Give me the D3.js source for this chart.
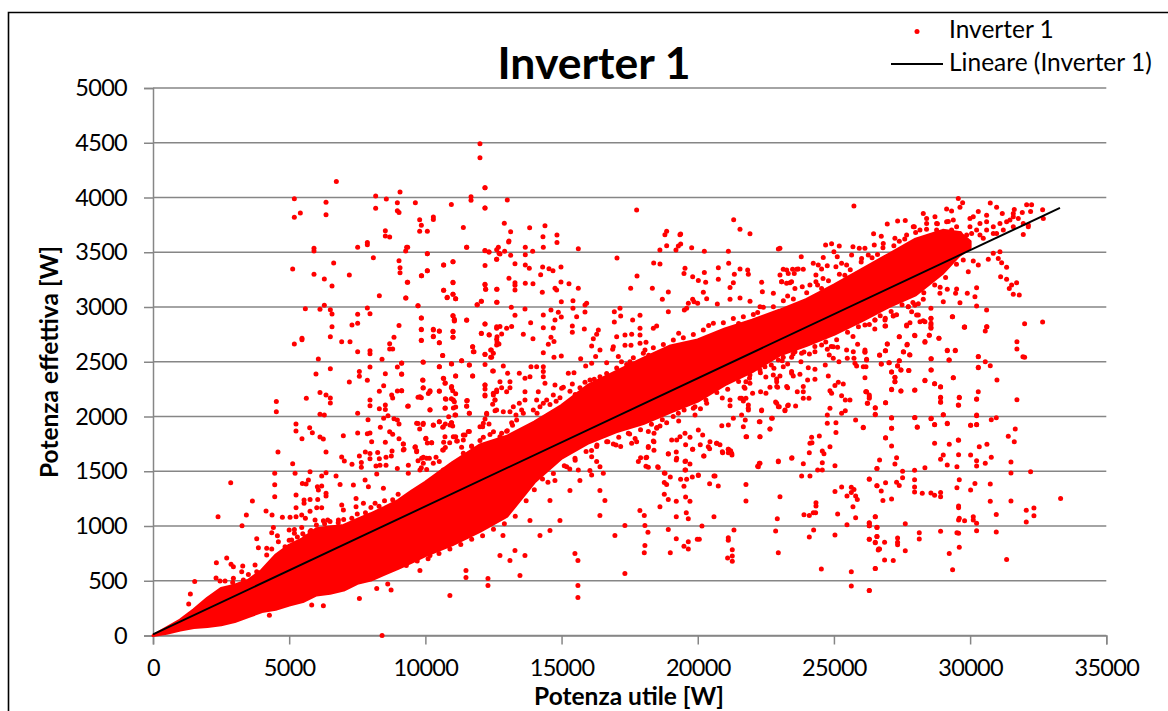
<!DOCTYPE html>
<html><head><meta charset="utf-8">
<script src="https://cdn.jsdelivr.net/npm/d3@7"></script>
<style>html,body{margin:0;padding:0;background:#fff}svg{display:block}</style>
</head><body><svg id="c" width="1168" height="711"></svg>
<script>
const chartTitle="Inverter 1", xTitle="Potenza utile [W]", yTitle="Potenza effettiva [W]";
const seriesName="Inverter 1", trendName="Lineare (Inverter 1)";
const xTicks=[0,5000,10000,15000,20000,25000,30000,35000];
const yTicks=[0,500,1000,1500,2000,2500,3000,3500,4000,4500,5000];
const trendLine=[[0,10],[33300,3905]];
// dense cloud envelope: x, lower, upper
const cloudX=[0,500,1000,1500,2000,2500,3000,3500,4000,4500,5000,5500,6000,6500,7000,7500,8000,8500,9000,9500,10000,11000,12000,13000,14000,15000,16000,17000,18000,19000,20000,21000,22000,23000,24000,25000,26000,27000,28000,29000,29600,30000];
const cloudLow=[0,20,50,73,82,97,127,173,218,240,279,309,370,385,415,476,506,560,612,670,730,830,950,1090,1400,1620,1760,1860,1935,2040,2140,2290,2410,2560,2650,2750,2870,3000,3110,3310,3470,3540];
const cloudHigh=[0,70,142,235,340,430,460,505,597,733,824,885,975,990,1005,1060,1112,1170,1233,1320,1400,1580,1740,1820,1950,2100,2290,2410,2530,2645,2700,2800,2880,2970,3070,3200,3340,3480,3620,3700,3680,3600];
// points fringing the cloud's upper and lower edges
const fringeUpper=[[5000,870],[5300,900],[5500,930],[5800,960],[6000,1010],[6300,1020],[6500,1040],[6800,1030],[7000,1060],[7300,1070],[7500,1110],[7800,1120],[8000,1170],[8300,1180],[8500,1230],[8800,1240],[9000,1290],[9373,1481],[9801,1512],[9924,1573],[10291,1573],[10658,1512],[11025,1542],[11393,1664],[11699,1725],[12005,1780],[12127,1810],[12372,1836],[12739,1816],[12984,1866],[13351,1968],[13596,2029],[13963,2060],[14330,2120],[14575,2110],[14942,2171],[15309,2231],[15676,2262],[16044,2333],[16411,2363],[16656,2393],[17023,2444],[17390,2475],[17635,2536],[18002,2577],[18369,2627],[18737,2658],[19104,2698],[19471,2719],[19838,2749],[20205,2790],[20573,2851],[20940,2856],[21307,2896],[21674,2911],[22041,2932],[22408,2997],[22776,3003],[23143,3058],[23510,3074],[24000,3130],[24400,3200],[24800,3240],[25200,3300],[25600,3340],[26000,3410],[26400,3450],[26800,3540],[27200,3560],[27600,3620],[28000,3680],[28400,3710],[28800,3760],[29200,3780],[12500,1860],[13200,1920],[14100,2030],[14800,2140],[15500,2200],[16200,2340],[17200,2500],[18200,2560],[19300,2760],[20400,2830],[21500,2850],[22200,2950],[23300,3100],[24600,3260],[25400,3290],[26600,3480],[27400,3600]];
const fringeLower=[[9300,640],[9700,680],[10100,700],[10500,750],[10900,790],[11300,830],[11700,880],[12100,910],[12500,970],[12900,1020],[13300,1090],[13700,1230],[14300,1430],[14700,1480],[15100,1550],[15500,1600],[15900,1680],[16300,1740],[16700,1770],[17100,1810],[17500,1840],[17900,1880],[18300,1930],[18700,1970],[19100,2000],[19500,2060],[19900,2090],[20300,2150],[20700,2220],[21100,2250],[21500,2320],[21900,2350],[22300,2400],[22700,2470],[23100,2510],[23500,2570],[23900,2590],[24300,2640],[24700,2680],[25100,2700],[25500,2770],[25900,2820],[26300,2840],[26700,2920],[27100,2960],[27500,3020],[27900,3040],[28300,3130],[28700,3200],[29100,3270],[29500,3390],[14000,1330],[14500,1400],[15300,1520],[16100,1690],[16900,1750],[17700,1800],[18500,1900],[19300,1960],[20100,2070],[20900,2170],[21700,2270],[22500,2360],[23300,2480],[24100,2570],[24900,2640],[25700,2730],[26500,2800],[27300,2930],[28100,3030],[28900,3180]];
const pointsTopLeft=[[6731,4147],[5189,3989],[6352,3956],[5409,3858],[5189,3819],[6352,3843],[8175,4014],[8567,3986],[9069,4050],[8971,3953],[8175,3901],[8971,3880],[9032,3864],[9632,3953],[10954,3937],[11676,4007],[11676,3974],[12190,4090],[12190,3904],[9791,3797],[9852,3746],[10293,3822],[10293,3800],[11394,3727],[9791,3691],[10072,3691],[8530,3697],[8530,3648],[8689,3639],[5911,3536],[5911,3511],[7514,3545],[7869,3590],[7869,3569],[9350,3545],[9277,3511],[10072,3487],[11517,3545],[12190,3514],[12337,3502],[12680,3545],[12618,3523],[12704,3490],[8090,3450],[9032,3423],[11015,3414],[10672,3383],[12618,3435],[12190,3380],[6633,3402],[5128,3347],[5911,3298],[6290,3256],[7208,3292],[6572,3192],[9069,3359],[9069,3313],[10072,3332],[9852,3286],[9350,3225],[11015,3222],[12190,3204],[12214,3161],[12631,3161],[10672,3152],[8310,3103],[9277,3082],[10795,3085],[11015,3116],[11113,3076],[12055,3052],[11896,3021],[12631,3043],[9730,3012],[5593,2985],[6131,2979],[6290,3015],[6511,2975],[6572,2936],[7514,2933],[7869,2991],[7967,2939],[9852,2900],[11015,2921],[11064,2887],[11517,2881]];
const pointsMidLeft=[[6572,2820],[7306,2835],[7514,2851],[9032,2832],[9852,2793],[10293,2790],[10513,2778],[11015,2774],[11064,2872],[12190,2844],[12618,2820],[12055,2759],[12337,2747],[12631,2729],[12631,2680],[5470,2714],[5470,2701],[5189,2662],[6511,2729],[6927,2683],[7233,2683],[8848,2723],[8689,2665],[8689,2616],[8800,2616],[9852,2695],[10293,2732],[10513,2674],[11015,2723],[11737,2637],[11786,2592],[7514,2592],[7967,2601],[7967,2574],[10636,2558],[12190,2567],[12398,2607],[12398,2540],[12496,2577],[6070,2525],[8408,2522],[9130,2488],[9913,2497],[10954,2482],[11333,2510],[11615,2470],[12190,2476],[12496,2415],[6511,2437],[5984,2388],[7576,2412],[7576,2367],[7967,2452],[8971,2452],[8530,2391],[9130,2385],[10513,2455],[11113,2370],[11737,2370],[7208,2315],[7869,2330],[9913,2330],[10672,2348],[10733,2306],[8469,2281],[8310,2230],[8971,2233],[9130,2236],[9913,2260],[10170,2236],[10109,2211],[10513,2230],[10954,2263],[11003,2236],[11113,2208],[12190,2287],[12190,2251],[12190,2187],[12496,2196],[12618,2226],[6131,2220],[6352,2196],[6511,2169],[6511,2123],[5629,2166],[4528,2138],[4528,2044],[7967,2150],[7967,2099],[8763,2196],[8800,2169],[9730,2175],[9852,2172],[10733,2163],[10954,2163],[11064,2135],[11517,2144],[11517,2093],[12557,2150],[12471,2111],[8310,2071],[8530,2105],[8530,2065],[9350,2093],[10170,2062],[10733,2077],[11027,2077],[11113,2086],[11615,2029],[12557,2053],[7514,2029],[6131,2020],[6290,2013],[8628,2007],[8469,1983],[7894,1971],[8848,1980],[8971,1968],[9032,1931],[11113,2013],[10856,1998],[12251,2020],[12190,1977],[10513,1953],[9730,1937],[9791,1886],[9913,1928],[10293,1919],[10733,1931],[10954,1943],[10636,1901],[11003,1913],[5250,1931],[5250,1867],[5752,1898],[5850,1852],[5470,1797],[6131,1813],[6254,1794],[6988,1825],[7514,1849],[7967,1849],[7869,1843],[8347,1901],[8689,1861],[8800,1837],[9032,1797],[8028,1770],[8530,1764],[9191,1749],[9216,1700],[4589,1676],[6352,1676],[7796,1676],[7967,1663],[8249,1672],[8775,1685],[9632,1724],[9681,1688],[10011,1797],[10072,1758],[10231,1761],[10672,1764],[10893,1761],[11113,1816],[11174,1776],[11456,1831],[11615,1864],[11394,1785],[12104,1907],[12337,1931],[10636,1694],[10733,1718],[5128,1569],[6927,1630],[7025,1593],[7306,1563],[7576,1639],[7649,1581],[7649,1536],[7967,1615],[8310,1615],[8555,1627],[8555,1554],[8750,1639],[8187,1548],[8334,1554],[8971,1526],[9375,1554],[9730,1596],[9926,1627],[10146,1618],[10391,1627],[9852,1532],[10048,1517]];
const pointsLowLeft=[[2853,1395],[2388,1085],[3649,1228],[3428,1100],[3269,1003],[3808,884],[3869,802],[2327,665],[2706,707],[2865,650],[2951,628],[3294,634],[3257,583],[2315,525],[2461,497],[2645,497],[2951,522],[2926,485],[3318,506],[3502,558],[3747,643],[3808,583],[1531,494],[1372,379],[1311,287],[4150,1137],[4371,1100],[4469,1481],[4469,1377],[4469,1267],[4750,1079],[5032,1079],[5252,1283],[5484,1389],[5216,1481],[5766,1496],[5705,1420],[5620,1383],[6035,1359],[6194,1365],[6072,1328],[6194,1456],[6353,1487],[6721,1456],[6868,1380],[6353,1298],[6353,1274],[5546,1237],[5546,1207],[5766,1243],[6048,1243],[6011,1167],[6194,1167],[5766,1134],[5252,1167],[5252,1085],[5460,1100],[5595,1070],[5950,1054],[6255,1048],[6415,1054],[5000,963],[5191,969],[5191,933],[4420,987],[4359,939],[4567,911],[5460,987],[5766,948],[6807,1054],[6929,1191],[6990,1146],[7357,1374],[7455,1252],[7455,1176],[7786,1420],[7908,1359],[8214,1474],[8459,1344],[8153,1207],[7725,1207],[8214,430],[8618,470],[8741,415],[7578,339],[4273,184],[5827,278],[6255,272],[8410,0],[4603,857],[4175,735],[4359,790],[4175,796],[4848,811],[5093,872],[5583,902],[10900,366],[11490,530],[11490,594],[12298,520],[12298,457],[12849,913],[13473,548],[13105,685],[12738,730],[13289,776],[13656,730],[13840,1050],[14207,913],[14574,959],[14941,1050],[15491,749],[15601,685],[15601,457],[15601,347],[14574,1233],[15308,1325],[14757,1416],[15674,1416],[16041,1507],[16408,1325],[16592,1233],[16408,1096],[17325,566],[16959,913],[17325,1005],[17876,1142],[18060,822],[18060,1005],[9800,594],[10536,822],[9067,685],[11637,959],[10169,731]];
const pointsTopMid=[[12004,4491],[12004,4363],[12188,4089],[13008,3977],[12188,3904],[12898,3764],[13130,3688],[13828,3724],[14391,3742],[14317,3642],[14831,3657],[17757,3885],[18858,3691],[19372,3666],[21319,3797],[21551,3709],[21918,3669],[13069,3602],[18795,3660],[19346,3660],[19200,3520],[18610,3520],[9312,3545],[10071,3487],[11515,3545],[12188,3515],[12335,3502],[12739,3484],[12910,3508],[13057,3594],[13131,3472],[13669,3545],[13669,3478],[13939,3508],[14330,3545],[14832,3588],[15615,3533],[17035,3448],[18859,3560],[19287,3557],[19373,3575],[19777,3542],[20242,3508],[21124,3508],[22960,3530],[18382,3402],[18614,3393],[21136,3399],[10670,3384],[11013,3414],[10071,3332],[9863,3286],[12617,3435],[13290,3396],[13669,3384],[13816,3353],[14306,3365],[14538,3350],[14685,3332],[14979,3365],[14232,3295],[13069,3262],[13290,3222],[13290,3198],[13669,3216],[13951,3213],[14979,3228],[15273,3213],[12188,3207],[12213,3161],[12617,3161],[13290,3155],[9336,3225],[11013,3225],[10670,3152],[11013,3116],[10805,3088],[11111,3076],[9287,3082],[14293,3134],[14759,3171],[14820,3155],[15615,3171],[14991,3049],[15419,3058],[15419,2988],[15921,3034],[15860,3018],[12054,3052],[11907,3021],[12617,3043],[9728,3012],[13155,2997],[13657,2982],[13290,2924],[14330,2927],[14611,2973],[14881,2951],[14759,2881],[14991,2909],[15554,2912],[15860,2955],[11013,2921],[11062,2878],[11515,2878],[9850,2900],[13865,2857],[12188,2845],[12617,2805],[12739,2821],[12984,2805],[13167,2821],[14330,2811],[14697,2808],[15395,2827],[15395,2769],[15836,2799],[9850,2796],[10291,2796],[10511,2781],[11013,2778],[10291,2729],[11013,2723],[12054,2760],[12347,2744],[12800,2754],[12617,2705],[13596,2751],[13951,2711],[14611,2723],[9850,2696],[10511,2674],[12617,2653],[12702,2662],[11735,2638],[11760,2592],[14722,2684],[14514,2659],[12420,2607],[12188,2568],[12433,2541],[10634,2556],[11331,2510],[14330,2583],[14722,2541],[14991,2553],[15701,2528],[15885,2461],[16105,2486],[16251,2547],[16411,2607],[16656,2492],[16105,2644],[16289,2751],[16166,2711],[16350,2790],[16937,2957],[17145,2988],[16937,2863],[17170,2918],[17610,2881],[17880,2924],[17329,2744],[17574,2751],[17880,2805],[17880,2744],[17023,2729],[16901,2638],[16876,2614],[17329,2650],[17549,2650],[17880,2668],[17084,2547],[17512,2501],[18100,2677],[18063,2607],[18369,2805],[18491,2827],[18333,3171],[17537,3171],[17770,3283],[18920,3137],[18700,3070],[19532,3353],[19495,3305],[19814,3277],[20022,3241],[20242,3314],[20291,3225],[20756,3359],[20756,3253],[20205,3134],[19655,3034],[19814,3070],[19863,3049],[19997,3034],[20328,3076],[18920,2957],[19593,2988],[19508,2973],[20719,3027],[21185,3177],[21307,3222],[21344,3298],[21552,3347],[21833,3338],[21858,3298],[22347,3225],[22372,3140],[22776,3125],[23020,3292],[23265,3338],[23633,3344],[23082,3231],[23388,3222],[21185,3070],[21552,3082],[21919,3052],[22286,3003]];
const pointsCentre=[[9128,2486],[9924,2495],[10511,2455],[10964,2480],[11613,2470],[9128,2388],[9899,2334],[10658,2349],[11111,2370],[11735,2370],[12470,2416],[12861,2461],[13020,2394],[13449,2394],[13877,2455],[14085,2455],[14330,2455],[15248,2394],[15456,2400],[14330,2410],[13841,2364],[13657,2349],[14330,2364],[10719,2303],[9924,2263],[10964,2273],[9128,2236],[12188,2288],[12739,2318],[13106,2318],[12800,2263],[12617,2242],[13106,2263],[12188,2196],[12494,2212],[12984,2227],[13657,2227],[14146,2227],[14391,2303],[14759,2288],[15065,2267],[15395,2297],[15860,2312],[16166,2282],[9801,2181],[10169,2227],[10511,2233],[10756,2157],[11026,2151],[11539,2145],[11515,2096],[9373,2096],[10169,2060],[10719,2075],[11087,2014],[11613,2029],[12249,2029],[12555,2151],[12617,2060],[12861,2044],[13106,2044],[13229,2090],[13449,2120],[13657,2151],[14085,2151],[13534,2060],[13326,2014],[14697,2196],[15003,2257],[14453,2151],[14208,2090],[12127,1938],[10511,1953],[10903,1923],[9924,1938],[9679,1938],[10291,1923],[10658,1907],[10964,1944],[12005,1907],[13167,1944],[11576,1862],[11392,1831],[11025,1816],[10719,1816],[10022,1801],[10230,1761],[11148,1776],[9189,1749],[10658,1694],[9618,1719],[9679,1679],[9189,1694],[10046,1618],[9863,1618],[11331,1719],[11699,1731],[13008,1871],[12800,1846],[10511,1588],[17513,1923],[18125,1968],[18186,1862],[18859,1944],[19288,2029],[19838,2075],[19900,2014],[20883,1916],[21124,1923],[21307,1983],[21674,1907],[22286,1953],[22714,1983],[22653,1886],[18492,1892],[18614,1913],[18394,1846],[18369,1776],[17451,1846],[17304,1907],[16999,1740],[16656,1770],[16289,1725],[17170,1725],[17574,1755],[17757,1770],[18186,1725],[18920,1658],[19226,1786],[19532,1846],[19348,1816],[19043,1786],[19716,1810],[19814,1700],[20022,1877],[20181,1831],[20230,1639],[20450,1770],[20695,1755],[20903,1679],[21124,1700],[21246,1664],[21772,1816],[22286,1816],[22261,1573],[22959,1594],[23449,1618],[22225,1542],[16105,1633],[16533,1481],[16289,1588],[16411,1542],[16105,1466],[15615,1512],[15187,1542],[15493,1618],[17819,1588],[18125,1627],[18186,1536],[19532,1512],[19226,1618],[18529,1542],[18798,1481],[19532,1588],[20022,1466],[20634,1457],[20328,2120],[21185,2151],[21185,2099],[21552,2166],[21674,2142],[21858,2105],[21858,2059],[22347,2059],[22899,2120],[22960,2090],[23326,2105],[23204,2059],[23265,2273],[22899,2273],[22899,2318],[23449,2394]];
const pointsLowMid=[[18184,1718],[18392,1770],[18392,1691],[18098,1624],[17902,1624],[18098,1545],[18551,1535],[18772,1484],[18992,1447],[18772,1398],[18857,1380],[18772,1289],[18918,1243],[18612,1176],[18037,1097],[18172,942],[18037,756],[18992,756],[18918,969],[19212,1675],[18918,1660],[19212,1602],[19555,1593],[19714,1566],[19555,1511],[19371,1426],[19592,1426],[19800,1447],[20020,1462],[19494,1362],[19212,1225],[19555,1264],[19714,1225],[19579,1121],[19212,1085],[19653,1067],[20155,1000],[19212,884],[19653,857],[19494,814],[19653,790],[19983,878],[20057,878],[20595,1085],[21330,963],[21122,893],[21122,869],[21268,784],[21097,707],[21268,726],[21268,677],[20595,1456],[20436,1386],[20754,1365],[21770,1380],[21770,1228],[19555,1742],[19812,1700],[20093,1742],[20387,1724],[20436,1706],[20216,1639],[20693,1755],[20816,1742],[20914,1669],[21122,1700],[21122,1669],[21207,1688],[21256,1648],[23019,1268],[22921,1067],[22860,954],[22958,756],[22958,1587],[22199,1545],[22285,1572],[23459,1624],[23876,1569],[23814,1456],[24120,1456],[24402,1511],[24573,1511],[24573,1578],[24096,1669],[24573,1685],[24634,1660],[24855,1724],[24120,1755],[24194,1761],[25038,1551],[23900,1103],[24096,1097],[24243,1121],[24328,1121],[24341,1213],[24341,1182],[24255,963],[24096,899],[24537,607],[25038,917],[25136,1109],[25038,1316],[25283,1356],[25479,1274],[25638,1353],[25736,1334],[25638,1307],[25797,1274],[25858,1243],[25699,1176],[25797,1076],[25479,1012],[25638,583],[25638,452],[26299,412],[26299,1429],[26581,1368],[26581,1526],[26299,1024],[26299,1003],[26581,987],[26519,1085],[26299,878],[26581,905],[26519,847],[26642,790],[26519,613]];
const pointsRight=[[29797,2817],[30617,2820],[30556,2781],[32001,2848],[32662,2863],[31719,2683],[31719,2616],[31939,2546],[32001,2540],[28855,2714],[28500,2741],[27961,2741],[28341,2677],[28561,2814],[27398,2729],[27680,2653],[26958,2662],[26896,2601],[27558,2589],[27778,2564],[26676,2561],[26138,2592],[26199,2516],[29161,2601],[29455,2601],[28561,2528],[29222,2516],[30299,2546],[30556,2500],[30740,2464],[30299,2446],[27398,2510],[27019,2491],[26737,2479],[27337,2464],[27459,2424],[27741,2421],[28561,2424],[27117,2406],[27239,2357],[27239,2318],[28341,2327],[28696,2300],[28916,2269],[29381,2354],[30985,2333],[27117,2245],[27459,2233],[27961,2239],[30299,2227],[26297,2196],[26297,2166],[26174,2227],[26236,2120],[26896,2126],[26517,2077],[26517,2016],[28916,2175],[28916,2129],[29602,2175],[29577,2102],[30238,2157],[31719,2153],[29014,2016],[27117,1986],[27961,1989],[28561,1980],[30238,2007],[30777,1971],[30960,1989],[26076,1898],[27117,1892],[28059,1901],[28696,1925],[29161,1934],[30018,1919],[30238,1925],[31658,1886],[31401,1819],[31621,1770],[26896,1803],[27117,1730],[28696,1755],[29234,1746],[29577,1782],[30336,1724],[30617,1746],[29577,1651],[30018,1648],[29014,1648],[28916,1609],[30238,1596],[30777,1627],[30556,1572],[31499,1584],[29161,1557],[29516,1542],[30238,1548],[26676,1602],[27300,1624],[27239,1566],[26578,1526],[27521,1499],[27961,1508],[28341,1532],[31499,1484],[32221,1496],[26297,1426],[27521,1441],[26896,1395],[27300,1399],[27398,1371],[26578,1368],[27961,1423],[29602,1423],[30177,1389],[30740,1383],[29516,1350],[26737,1319],[27961,1356],[27961,1310],[28243,1298],[28561,1301],[28696,1280],[28916,1307],[28916,1268],[30018,1329],[26799,1234],[27117,1246],[29577,1182],[29577,1167],[30740,1225],[31499,1228],[33322,1252],[32343,1164],[32062,1143],[32343,1094],[32062,1036],[30960,1106],[26517,1085],[26297,1030],[26297,1003],[26578,988],[27619,1021],[29602,1070],[29577,1055],[29797,1048],[30116,1085],[30116,1055],[30238,1024],[28133,939],[28916,951],[29516,939],[29577,933],[30238,957],[30960,945],[26578,905],[26297,878],[26517,851],[26860,851],[27337,890],[27337,851],[27337,829],[28133,881],[26676,790],[26627,781],[27619,775],[29602,805],[29234,750],[26860,689],[27178,686],[31340,695],[26517,613],[29357,601],[26297,412]];
const pointsTopRight=[[25734,3922],[29565,3992],[29725,3952],[29627,3910],[30740,3949],[30973,3910],[30300,3873],[32075,3934],[32258,3934],[32662,3888],[32221,3873],[31622,3891],[31915,3864],[29137,3894],[29320,3876],[28280,3855],[28709,3824],[28403,3809],[27338,3785],[27619,3791],[26958,3757],[26456,3669],[26738,3645],[31181,3855],[30606,3839],[30116,3824],[29994,3809],[32687,3809],[32136,3748],[31952,3663],[31585,3855],[27913,3733],[28158,3703],[28403,3763],[28770,3763],[28770,3703],[29137,3779],[29382,3794],[29504,3733],[29320,3703],[29627,3672],[29994,3733],[30238,3703],[30055,3672],[30361,3763],[30606,3779],[30606,3703],[30851,3733],[30973,3672],[31095,3763],[31340,3779],[31463,3794],[31218,3703],[31585,3824],[31768,3809],[31952,3763],[32136,3733],[31585,3733],[30361,3657],[30851,3672],[29872,3657],[29382,3642],[30483,3627],[24694,3566],[24914,3578],[25196,3557],[25698,3551],[25930,3536],[26138,3536],[26481,3566],[23800,3460],[25000,3505],[24608,3453],[25122,3460],[25281,3399],[24755,3377],[24241,3399],[24425,3383],[24547,3347],[23139,3344],[23482,3344],[23690,3347],[23874,3344],[23323,3307],[23543,3307],[23017,3536],[24339,3292],[24339,3231],[23445,3231],[23078,3231],[23262,3216],[23837,3186],[23568,3170],[24119,3201],[24547,3170],[25465,3383],[25073,3368],[25649,3475],[26016,3444],[26261,3475],[26811,3581],[27239,3627],[27668,3657],[27950,3733],[30850,3490],[31095,3505],[31034,3444],[30667,3435],[31157,3405],[31340,3362],[30116,3420],[30300,3383],[29933,3322],[29749,3429],[31120,3277],[31340,3253],[31707,3222],[31524,3201],[31438,3170],[31585,3116],[31805,3109],[30238,3176],[30177,3094],[29896,3125],[29504,3164],[29467,3125],[29627,3039],[29162,3161],[29015,3049],[28892,3125],[28280,3070],[27974,3018],[30238,3009],[30606,2972],[28561,2988],[27729,3003],[27179,2918],[28097,2927],[28280,2875],[28561,2896],[28561,2835],[29345,2912],[27668,2826],[29786,2814],[30606,2820],[26873,2881],[26873,2826],[26505,2881],[26138,2835]];
const pointsBelowRight=[[27179,2921],[27730,3003],[27975,3018],[27853,2957],[28036,2927],[28159,2866],[28342,2866],[28563,2897],[28563,2851],[28563,2805],[29358,2912],[29799,2817],[27669,2836],[27791,2857],[26898,2827],[26506,2881],[26886,2897],[28501,2741],[28856,2714],[28342,2684],[27975,2738],[27400,2729],[27693,2659],[27547,2592],[27791,2562],[29162,2604],[29456,2604],[29236,2516],[28575,2528],[30301,2547],[30301,2449],[28575,2425],[29383,2355],[28342,2330],[28697,2300],[28917,2272],[26959,2662],[26886,2601],[26678,2559],[27032,2492],[26739,2480],[27400,2510],[27339,2461],[27461,2425],[27755,2419],[27118,2407],[27241,2358],[27241,2318],[27118,2248],[27461,2233],[27975,2242],[29603,2172],[28917,2172],[28917,2132],[29566,2105],[30240,2160],[26898,2126],[26518,2081],[26518,2020],[27118,1989],[27975,1992],[28575,1983],[29015,2017],[30240,2014],[26078,1901],[27118,1892],[28061,1904],[28697,1926],[29162,1938],[30019,1919],[30240,1926],[26898,1807],[29566,1785],[26200,2227],[26078,2455],[26176,2455],[26139,2355],[25833,2461],[25772,2486],[26200,2522],[26139,2607],[26139,2586],[25870,2659],[25711,2592],[25735,2531],[25466,2607],[25490,2531],[24976,2638],[25135,2632],[24756,2614],[24829,2562],[24976,2531],[25184,2501],[24548,2653],[24303,2592],[23813,2577],[23569,2592],[23446,2540],[23140,2592],[23140,2540],[22957,2516],[23789,2501],[24682,2470],[24058,2446],[24303,2431],[23140,2455],[22797,2440],[22467,2455],[22283,2425],[21916,2379],[23446,2410],[23507,2370],[23752,2385],[22773,2379],[23018,2370],[22895,2343],[24034,2334],[24303,2340],[24793,2370],[25160,2312],[25343,2297],[25037,2282],[24854,2236],[25282,2190],[25417,2151],[25588,2151],[24915,2212],[23875,2273],[23875,2227],[23654,2227],[23299,2263],[22932,2266],[22651,2266],[22308,2227],[22504,2212],[22014,2212],[21769,2318],[21916,2303],[21733,2257],[23875,2166],[24083,2166],[22859,2132],[22993,2090],[23299,2099],[23593,2096],[23201,2053],[22345,2053],[21855,2075],[21610,2166],[21769,2166],[21610,2014],[21745,1968],[22259,1953],[22736,1983],[22651,1886],[24854,2075],[24756,2014],[24756,1938],[25074,1944],[25074,1855],[25282,2029],[25417,2053],[25796,1968],[24181,1810],[24464,1822],[22283,1816],[21794,1816],[26225,2120],[26298,2181],[26176,2227]];
const allPoints=[...fringeUpper,...fringeLower,...pointsTopLeft,...pointsMidLeft,...pointsLowLeft,...pointsTopMid,...pointsCentre,...pointsLowMid,...pointsRight,...pointsTopRight,...pointsBelowRight];

const svg=d3.select("#c");
const font="Lato, Carlito, sans-serif";
const x=d3.scaleLinear().domain([0,35000]).range([153,1106.3]);
const y=d3.scaleLinear().domain([0,5000]).range([635.5,88]);
const gridCol="#868686";

svg.append("path").attr("d","M8.5,711V12.5H1168").attr("fill","none").attr("stroke","#000").attr("stroke-width",1.6);

const yAxis=d3.axisLeft(y).tickValues(yTicks).tickFormat(d3.format("d")).tickSize(9).tickPadding(17);
const xAxis=d3.axisBottom(x).tickValues(xTicks).tickFormat(d3.format("d")).tickSize(9).tickPadding(15);
svg.append("g").selectAll("line").data(yTicks).join("line")
  .attr("x1",x(0)).attr("x2",x(35000)).attr("y1",d=>y(d)).attr("y2",d=>y(d))
  .attr("stroke",gridCol).attr("stroke-width",1.5);
const gy=svg.append("g").attr("transform",`translate(${x(0)},0)`).call(yAxis);
const gx=svg.append("g").attr("transform",`translate(0,${y(0)})`).call(xAxis);
for(const g of [gx,gy]){
  g.selectAll(".domain").attr("stroke",gridCol).attr("stroke-width",1.5);
  g.selectAll(".tick line").attr("stroke",gridCol).attr("stroke-width",1.5);
  g.selectAll("text").attr("font-family",font).attr("font-size",23.5).attr("letter-spacing",-0.7).attr("fill","#000");
}

const cloud=d3.area().x((d,i)=>x(cloudX[i])).y0((d,i)=>y(cloudLow[i])).y1((d,i)=>y(cloudHigh[i]));
svg.append("path").attr("d",cloud(cloudX)).attr("fill","#ff0000").attr("stroke","#ff0000").attr("stroke-width",3).attr("stroke-linejoin","round");

svg.append("g").selectAll("circle").data(allPoints).join("circle")
  .attr("cx",d=>x(d[0])).attr("cy",d=>y(d[1])).attr("r",2.5).attr("fill","#ff0000");

svg.append("path").attr("d",d3.line().x(d=>x(d[0])).y(d=>y(d[1]))(trendLine))
  .attr("fill","none").attr("stroke","#000").attr("stroke-width",1.9);

svg.append("text").attr("x",594).attr("y",79).attr("text-anchor","middle").attr("font-family",font).attr("font-weight",700).attr("font-size",44.5).text(chartTitle);
svg.append("text").attr("x",629).attr("y",705).attr("text-anchor","middle").attr("font-family",font).attr("font-weight",700).attr("font-size",24.5).text(xTitle);
svg.append("text").attr("transform","translate(58,362) rotate(-90)").attr("text-anchor","middle").attr("font-family",font).attr("font-weight",700).attr("font-size",24.5).text(yTitle);

const legend=svg.append("g");
legend.append("circle").attr("cx",917).attr("cy",31.5).attr("r",2.5).attr("fill","#ff0000");
legend.append("line").attr("x1",891).attr("x2",943).attr("y1",64).attr("y2",64).attr("stroke","#000").attr("stroke-width",1.9);
legend.append("text").attr("x",949).attr("y",38).attr("font-family",font).attr("font-size",24.5).text(seriesName);
legend.append("text").attr("x",949).attr("y",71).attr("font-family",font).attr("font-size",24.5).text(trendName);
</script></body></html>
